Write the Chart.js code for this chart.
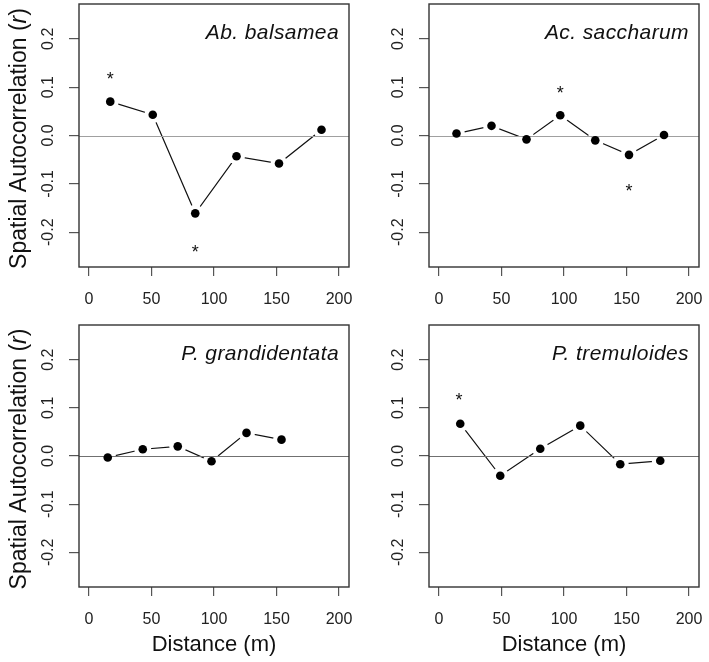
<!DOCTYPE html>
<html>
<head>
<meta charset="utf-8">
<script src="https://cdn.jsdelivr.net/npm/chart.js@4.4.1/dist/chart.umd.min.js"></script>
<style>
  body { margin: 0; background: #fff; }
  .wrap { position: relative; width: 709px; height: 662px; overflow: hidden; }
  .wrap canvas { position: absolute; }
</style>
</head>
<body>
<div class="wrap">
  <canvas id="p1" width="354" height="315" style="left:0;top:0"></canvas>
  <canvas id="p2" width="355" height="315" style="left:354px;top:0"></canvas>
  <canvas id="p3" width="354" height="347" style="left:0;top:315px"></canvas>
  <canvas id="p4" width="355" height="347" style="left:354px;top:315px"></canvas>
</div>
<script>
// axis ticks shared by all four panels
const xTicks = [0, 50, 100, 150, 200];
const yTicks = [-0.2, -0.1, 0, 0.1, 0.2];

// Ab. balsamea
const abDist = [17, 51, 85, 118, 152, 186];
const abR = [0.070, 0.043, -0.161, -0.043, -0.058, 0.012];
const abStarDist = [17, 85];
const abStarR = [0.125, -0.232];

// Ac. saccharum
const acDist = [14, 42, 70, 97, 125, 152, 180];
const acR = [0.004, 0.020, -0.008, 0.042, -0.010, -0.040, 0.001];
const acStarDist = [97, 152];
const acStarR = [0.097, -0.106];

// P. grandidentata
const pgDist = [15, 43, 71, 98, 126, 154];
const pgR = [-0.003, 0.014, 0.020, -0.011, 0.048, 0.034];
const pgStarDist = [];
const pgStarR = [];

// P. tremuloides
const ptDist = [17, 49, 81, 113, 145, 177];
const ptR = [0.067, -0.041, 0.015, 0.063, -0.017, -0.010];
const ptStarDist = [16];
const ptStarR = [0.124];

const FONT = '"Liberation Sans", Arial, Helvetica, sans-serif';
Chart.defaults.font.family = FONT;
Chart.defaults.color = '#222';

// R-like extras: box, zero line, stars, species name, y title
const rStyle = {
  id: 'rStyle',
  beforeDatasetDraw(chart, args, opts) {
    if (args.index !== 2) return;
    const {ctx, chartArea: a, scales: {y}} = chart;
    const y0 = Math.round(y.getPixelForValue(0)) + 0.5;
    ctx.save();
    ctx.strokeStyle = opts.zeroColor;
    ctx.lineWidth = 1.2;
    ctx.beginPath();
    ctx.moveTo(a.left, y0);
    ctx.lineTo(a.right, y0);
    ctx.stroke();
    ctx.restore();
  },
  afterDraw(chart, args, opts) {
    const {ctx, chartArea: a, scales: {x, y}} = chart;
    ctx.save();
    ctx.strokeStyle = '#333';
    ctx.lineWidth = 1.4;
    ctx.strokeRect(a.left, a.top, a.right - a.left, a.bottom - a.top);

    ctx.fillStyle = '#111';
    ctx.font = '18px ' + FONT;
    ctx.textAlign = 'center';
    ctx.textBaseline = 'alphabetic';
    opts.starDist.forEach((d, i) => {
      ctx.fillText('*', x.getPixelForValue(d), y.getPixelForValue(opts.starR[i]) + 10);
    });

    ctx.font = 'italic 21px ' + FONT;
    ctx.letterSpacing = '0.4px';
    ctx.textAlign = 'right';
    ctx.fillText(opts.name, a.right - 10, a.top + 35);
    ctx.letterSpacing = '0px';

    if (opts.yTitle) {
      const cy = (a.top + a.bottom) / 2 + 3;
      const f1 = '23px ' + FONT, f2 = 'italic 23px ' + FONT;
      const parts = [['Spatial Autocorrelation (', f1], ['r', f2], [')', f1]];
      let total = 0;
      parts.forEach(p => { ctx.font = p[1]; p.push(ctx.measureText(p[0]).width); total += p[2]; });
      ctx.translate(20, cy);
      ctx.rotate(-Math.PI / 2);
      ctx.textAlign = 'left';
      ctx.textBaseline = 'middle';
      let pos = -total / 2;
      parts.forEach(p => { ctx.font = p[1]; ctx.fillText(p[0], pos, 0); pos += p[2]; });
    }
    ctx.restore();
  }
};

function panel(id, dist, r, starDist, starR, name, o) {
  const pts = dist.map((d, i) => ({x: d, y: r[i]}));
  return new Chart(document.getElementById(id), {
    type: 'scatter',
    data: {
      datasets: [
        {data: pts, showLine: true, borderColor: '#111', borderWidth: 1.2, pointRadius: 0, order: 3},
        {data: pts, showLine: false, pointRadius: 8.5, pointBackgroundColor: '#fff', pointBorderWidth: 0, order: 2},
        {data: pts, showLine: false, pointRadius: 4.3, pointBackgroundColor: '#000', pointBorderColor: '#000', pointBorderWidth: 0, order: 1}
      ]
    },
    options: {
      responsive: false,
      animation: false,
      events: [],
      layout: {padding: o.padding, autoPadding: false},
      plugins: {
        legend: {display: false},
        tooltip: {enabled: false},
        rStyle: {starDist, starR, name, yTitle: o.yTitle, zeroColor: o.zeroColor}
      },
      scales: {
        x: {
          type: 'linear', min: -8, max: 208,
          afterBuildTicks: s => { s.ticks = xTicks.map(v => ({value: v})); },
          afterFit: s => { s.height = o.xHeight; s.paddingLeft = 0; s.paddingRight = 0; },
          grid: {drawOnChartArea: false, drawTicks: true, tickLength: 9, color: '#555', lineWidth: 1.2},
          border: {display: false},
          ticks: {autoSkip: false, maxRotation: 0, padding: 14, font: {size: 16}, color: '#222'},
          title: {display: o.xTitle, text: 'Distance (m)', font: {size: 22}, color: '#111', padding: {top: 0, bottom: 4}}
        },
        y: {
          type: 'linear', min: -0.272, max: 0.272,
          afterBuildTicks: s => { s.ticks = yTicks.map(v => ({value: v})); },
          afterFit: s => { s.width = o.yWidth; s.paddingTop = 0; s.paddingBottom = 0; },
          grid: {drawOnChartArea: false, drawTicks: true, tickLength: 10, color: '#555', lineWidth: 1.2},
          border: {display: false},
          ticks: {
            minRotation: 90, maxRotation: 90, crossAlign: 'center', padding: 7,
            font: {size: 16}, color: '#222',
            callback: v => (Math.abs(v) < 1e-9 ? 0 : v).toFixed(1)
          }
        }
      }
    },
    plugins: [rStyle]
  });
}

panel('p1', abDist, abR, abStarDist, abStarR, 'Ab. balsamea',
  {padding: {left: 0, top: 4, right: 5, bottom: 0}, yWidth: 79, xHeight: 48, yTitle: true, xTitle: false, zeroColor: '#a0a0a0'});
panel('p2', acDist, acR, acStarDist, acStarR, 'Ac. saccharum',
  {padding: {left: 0, top: 4, right: 10, bottom: 0}, yWidth: 75, xHeight: 48, yTitle: false, xTitle: false, zeroColor: '#a0a0a0'});
panel('p3', pgDist, pgR, pgStarDist, pgStarR, 'P. grandidentata',
  {padding: {left: 0, top: 10, right: 5, bottom: 0}, yWidth: 79, xHeight: 75, yTitle: true, xTitle: true, zeroColor: '#707070'});
panel('p4', ptDist, ptR, ptStarDist, ptStarR, 'P. tremuloides',
  {padding: {left: 0, top: 10, right: 10, bottom: 0}, yWidth: 75, xHeight: 75, yTitle: false, xTitle: true, zeroColor: '#707070'});
</script>
</body>
</html>
